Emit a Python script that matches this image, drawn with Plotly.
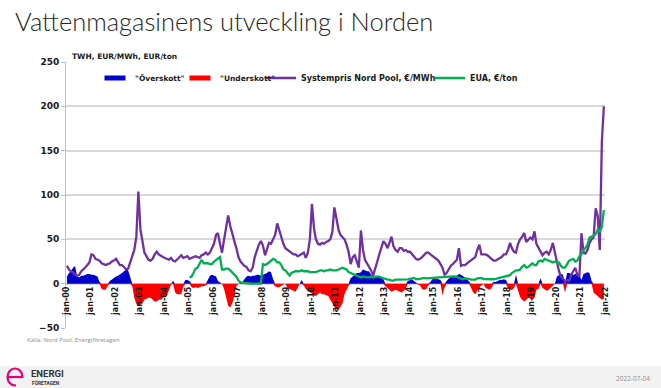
import pandas as pd
import plotly.graph_objects as go

# ---------------- data (monthly) ----------------
tick_labels = ["jan-%02d" % (y % 100) for y in range(2000, 2023)]

spot_price = [  # Systempris Nord Pool, EUR/MWh
    20, 16, 14, 13, 10, 9, 10, 14, 16, 18, 21, 24,      # 2000
    33, 32, 28, 27, 26, 23, 22, 21, 22, 23, 25, 26,     # 2001
    28, 24, 21, 21, 18, 16, 17, 25, 31, 38, 53, 104,    # 2002
    61, 48, 35, 31, 27, 26, 28, 33, 36, 33, 31, 30,     # 2003
    29, 28, 27, 29, 26, 25, 27, 30, 32, 29, 30, 31,     # 2004
    28, 29, 30, 31, 30, 29, 32, 33, 35, 33, 35, 40,     # 2005
    45, 55, 57, 45, 35, 50, 65, 77, 65, 55, 48, 40,     # 2006
    30, 25, 22, 20, 19, 15, 14, 18, 30, 38, 44, 48,     # 2007
    43, 32, 40, 46, 45, 50, 55, 68, 60, 50, 45, 40,     # 2008
    38, 36, 35, 33, 33, 31, 32, 34, 35, 29, 35, 50,     # 2009
    90, 62, 50, 45, 44, 46, 45, 47, 48, 50, 58, 86,     # 2010
    72, 61, 55, 52, 50, 44, 36, 22, 30, 32, 26, 18,     # 2011
    60, 38, 27, 23, 20, 15, 9, 16, 25, 33, 42, 48,      # 2012
    45, 40, 46, 53, 42, 38, 36, 40, 40, 37, 38, 36,     # 2013
    36, 33, 30, 28, 27, 28, 30, 33, 35, 35, 33, 31,     # 2014
    29, 28, 26, 22, 18, 10, 12, 16, 20, 22, 25, 27,     # 2015
    40, 20, 21, 21, 23, 25, 27, 28, 30, 38, 44, 33,     # 2016
    33, 33, 32, 30, 27, 26, 26, 28, 29, 30, 33, 33,     # 2017
    38, 46, 40, 36, 35, 45, 50, 53, 57, 47, 50, 52,     # 2018
    50, 59, 45, 40, 36, 32, 35, 36, 33, 38, 46, 35,     # 2019
    22, 14, 8, 5, 3, 4, 3, 10, 14, 18, 10, 8,           # 2020
    57, 35, 34, 38, 46, 50, 52, 85, 76, 38, 160, 200,   # 2021
]

eua_price = [None] * 60 + [  # EUA, EUR/ton (from 2005)
    7, 8, 12, 17, 18, 22, 27, 23, 23, 23, 22, 22,       # 2005
    25, 27, 28, 30, 16, 16, 17, 17, 15, 13, 10, 8,      # 2006
    3.5, 1.5, 1, 0.6, 0.4, 0.3, 0.2, 0.1, 0.1, 0.1, 0.1, 0.1,  # 2007
    22, 21, 22, 24, 26, 28, 27, 24, 24, 21, 16, 15,     # 2008
    12, 9, 12, 13, 14, 14, 14, 15, 14, 14, 14, 13,      # 2009
    13, 13, 13, 14, 15, 15, 14, 15, 15, 16, 15, 15,     # 2010
    15, 16, 17, 18, 17, 16, 13, 12, 11, 10, 9, 8,       # 2011
    7, 8, 8, 7, 7, 8, 7, 8, 8, 8, 7, 6,                 # 2012
    5, 4.5, 4.5, 3.5, 3.5, 4.5, 4.5, 4.5, 5, 5, 4.6, 4.8,  # 2013
    5.5, 6.5, 6.5, 5, 5, 5.5, 6, 6.5, 6, 6.2, 6.8, 7,   # 2014
    7, 7, 7, 7.2, 7.5, 7.5, 7.8, 8, 8, 8.3, 8.4, 8.2,   # 2015
    6.5, 5.5, 5, 6, 6, 5.5, 4.5, 4.5, 4.5, 6, 6.5, 6.5, # 2016
    5.2, 5.2, 5, 4.8, 4.6, 5, 5.5, 6, 7, 7.5, 7.5, 7.8, # 2017
    9, 9.5, 12, 13.5, 15, 15, 16, 19, 21, 18, 19, 21,   # 2018
    23, 21, 21, 25, 26, 25, 28, 27, 26, 25, 24, 25,     # 2019
    24, 24, 20, 18, 18, 22, 26, 27, 28, 25, 26, 31,     # 2020
    33, 38, 40, 44, 52, 53, 54, 56, 61, 59, 64, 83,     # 2021
]

reservoir_dev = [  # TWh deviation from normal
    8, 12, 14, 18, 20, 8, 7, 9, 9, 10, 11, 11,          # 2000
    10, 10, 9, 8, 2, -6, -7, -7, -2, 3, 5, 6,           # 2001
    8, 9, 10, 12, 14, 16, 15, 8, -3, -16, -23, -25,     # 2002
    -24, -22, -18, -17, -16, -16, -18, -20, -20, -18, -18, -16,  # 2003
    -14, -13, -8, -1, 3, -10, -12, -12, -12, -3, 4, 4,  # 2004
    3, -4, -5, -4, -5, -4, -3, -3, -2, 4, 9, 10,        # 2005
    9, 8, 3, 1, 0, -6, -16, -25, -27, -22, -14, -3,     # 2006
    0, 1, 2, 5, 8, 9, 8, 9, 9, 10, 10, 9,               # 2007
    10, 11, 12, 14, 13, 5, -3, -4, -4, -2, -1, 0,       # 2008
    -5, -6, -7, -8, -9, -5, 0, 4, -2, -6, -8, -10,      # 2009
    -12, -13, -14, -12, -10, -12, -12, -13, -14, -18, -22, -26,  # 2010
    -28, -30, -26, -22, -12, -7, -2, 6, 8, 10, 12, 12,  # 2011
    13, 16, 15, 14, 14, 10, 8, 8, 9, 7, 6, 5,           # 2012
    -3, -5, -7, -9, -8, -7, -8, -9, -10, -8, -5, 3,     # 2013
    4, 5, 3, 1, -1, -2, -6, -7, -6, -2, 2, 5,           # 2014
    6, 6, 5, 4, -13, -4, 3, 6, 8, 9, 8, 9,              # 2015
    11, 10, 8, 7, 5, 3, -5, -10, -12, -8, -4, -2,       # 2016
    0, -5, -6, -7, -5, 2, 2, 3, 4, 4, 5, 4,             # 2017
    -5, -7, -7, -5, 10, -8, -15, -18, -20, -18, -16, -17,  # 2018
    -18, -16, -7, -6, 6, -5, -7, -8, -7, -5, -3, 0,     # 2019
    8, 10, 11, 10, -10, 12, 12, 11, 10, 11, 12, 10,     # 2020
    4, 11, 12, 13, 12, 3, -10, -12, -14, -16, -18, -17, # 2021
]

dates = pd.date_range("2000-01-01", periods=len(spot_price), freq="MS") + pd.Timedelta(days=14)
tick_dates = pd.date_range("2000-01-01", periods=len(tick_labels), freq="YS")
surplus = [v if v > 0 else 0 for v in reservoir_dev]
deficit = [v if v < 0 else 0 for v in reservoir_dev]

# ---------------- layout helpers ----------------
W, H = 661, 388
L, R, T, B = 66, 56, 62, 60
PW, PH = W - L - R, H - T - B


def px(x):
    return (x - L) / PW


def py(y):
    return (H - B - y) / PH


BOLD = dict(family="DejaVu Sans", weight="bold", color="#1a1a1a")
BLUE, RED, PURPLE, GREEN = "#0000cc", "#ff0000", "#7030a0", "#00b050"

fig = go.Figure()
fig.add_trace(go.Scatter(x=dates, y=surplus, mode="lines", showlegend=False,
                         line=dict(width=0, color=BLUE), fill="tozeroy", fillcolor=BLUE))
fig.add_trace(go.Scatter(x=dates, y=deficit, mode="lines", showlegend=False,
                         line=dict(width=0, color=RED), fill="tozeroy", fillcolor=RED))
fig.add_trace(go.Scatter(x=dates, y=spot_price, name="Systempris Nord Pool, €/MWh",
                         mode="lines", line=dict(width=2.3, color=PURPLE),
                         legend="legend3"))
fig.add_trace(go.Scatter(x=dates, y=eua_price, name="EUA, €/ton",
                         mode="lines", line=dict(width=2.3, color=GREEN),
                         legend="legend4"))
# legend keys for the two areas (short thick bar swatches)
for nm, col, lg in [('"Överskott"', BLUE, "legend"), ('"Underskott"', RED, "legend2")]:
    fig.add_trace(go.Scatter(x=[None], y=[None], name=nm, mode="markers", legend=lg,
                             marker=dict(symbol="line-ew", size=15,
                                         line=dict(width=6, color=col))))


def leg(x, size=8):
    return dict(orientation="h", x=px(x), xanchor="left", y=py(78), yanchor="middle",
                bgcolor="rgba(0,0,0,0)", font=dict(size=size, **BOLD), itemwidth=30)


fig.update_layout(
    width=W, height=H,
    margin=dict(l=L, r=R, t=T, b=B),
    paper_bgcolor="white", plot_bgcolor="white",
    showlegend=True,
    title=dict(text="Vattenmagasinens utveckling i Norden", x=15 / W, xanchor="left",
               xref="container", y=1 - 22 / H, yref="container", yanchor="middle",
               font=dict(family="Lato", weight=300, size=25.5, color="#262626")),
    legend=leg(95, 7.5), legend2=leg(180, 7.5), legend3=leg(261), legend4=leg(430),
    xaxis=dict(type="date", range=["2000-01-01", "2022-01-01"],
               tickvals=tick_dates, ticktext=tick_labels, tickangle=-90,
               tickfont=dict(size=8, **BOLD), showgrid=False, zeroline=False,
               showline=False, ticks="", anchor="free", position=py(284)),
    yaxis=dict(range=[-50, 250], dtick=50, tickfont=dict(size=9, **BOLD),
               showgrid=True, gridcolor="#d9d9d9", gridwidth=1.5, zeroline=False,
               showline=True, linecolor="#bfbfbf", linewidth=1,
               ticks="outside", ticklen=4, tickcolor="#bfbfbf"),
)

# unit label and source
fig.add_annotation(text="TWH, EUR/MWh, EUR/ton", xref="paper", yref="paper",
                   x=px(70), y=py(57), xanchor="left", yanchor="middle",
                   showarrow=False, font=dict(size=7.5, **BOLD))
fig.add_annotation(text="Källa: Nord Pool, Energiföretagen", xref="paper", yref="paper",
                   x=px(25), y=py(340), xanchor="left", yanchor="middle",
                   showarrow=False, font=dict(family="Open Sans", size=6, color="#8c8c8c"))

# footer band
fig.add_shape(type="rect", xref="paper", yref="paper", x0=px(0), x1=px(W),
              y0=py(H), y1=py(366), fillcolor="#f2f2f2", line=dict(width=0), layer="below")
# logo ring
fig.add_shape(type="circle", xref="paper", yref="paper", xsizemode="pixel", ysizemode="pixel",
              xanchor=px(15), yanchor=py(377), x0=-7.5, x1=7.5, y0=-8.5, y1=8.5,
              line=dict(color="#e6007e", width=2.2))
fig.add_shape(type="rect", xref="paper", yref="paper", xsizemode="pixel", ysizemode="pixel",
              xanchor=px(15), yanchor=py(377), x0=1, x1=10, y0=-10, y1=-1,
              fillcolor="#f2f2f2", line=dict(width=0))
fig.add_shape(type="line", xref="paper", yref="paper", x0=px(7.5), x1=px(22.5),
              y0=py(377), y1=py(377), line=dict(color="#e6007e", width=2.2))
fig.add_annotation(text="ENERGI", xref="paper", yref="paper", x=px(29), y=py(373),
                   xanchor="left", yanchor="middle", showarrow=False,
                   font=dict(family="Roboto", weight="bold", size=9.5, color="#333333"))
fig.add_annotation(text="FÖRETAGEN", xref="paper", yref="paper", x=px(29.5), y=py(382.5),
                   xanchor="left", yanchor="middle", showarrow=False,
                   font=dict(family="Roboto", weight="bold", size=4.8, color="#333333"))
fig.add_annotation(text="2022-07-04", xref="paper", yref="paper", x=px(652), y=py(378),
                   xanchor="right", yanchor="middle", showarrow=False,
                   font=dict(family="Open Sans", size=6.5, color="#8c8c8c"))

fig.write_html("out.html", config={"displayModeBar": False},
               post_script="document.body.style.margin='0';")
